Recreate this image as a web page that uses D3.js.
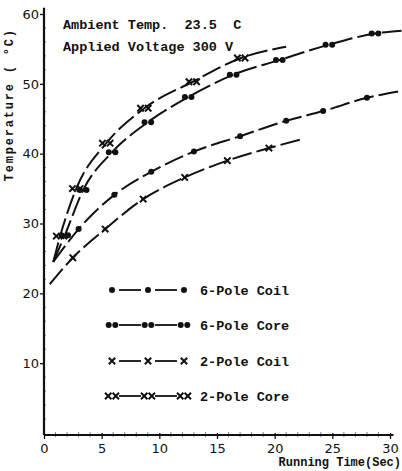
<!DOCTYPE html>
<html>
<head>
<meta charset="utf-8">
<script src="https://cdn.jsdelivr.net/npm/d3@7"></script>
<style>
  html, body { margin: 0; padding: 0; background: #fff; }
  svg { display: block; }
  .mono { font-family: "Liberation Mono", "DejaVu Sans Mono", monospace; font-weight: bold; fill: #111; }
  .tick text { font-family: "DejaVu Sans", "Liberation Sans", sans-serif; fill: #111; }
</style>
</head>
<body>
<svg id="chart" width="402" height="471"></svg>
<script>
// Temperature rise of motor coil and core vs running time
const sixCoilTime  = [0.8, 3.0, 6.1, 9.3, 13.0, 17.0, 21.0, 24.2, 28.0, 31.0];
const sixCoilTemp  = [24.5, 29.2, 34.1, 37.4, 40.3, 42.5, 44.7, 46.1, 48.0, 49.0];

const sixCoreTime  = [0.8, 1.8, 3.4, 5.9, 9.0, 12.5, 16.4, 20.4, 24.7, 28.7, 31.0];
const sixCoreTemp  = [24.5, 28.3, 34.8, 40.2, 44.5, 48.1, 51.3, 53.4, 55.6, 57.2, 57.6];

const twoCoilTime  = [0.5, 2.5, 5.3, 8.6, 12.2, 15.9, 19.5, 22.4];
const twoCoilTemp  = [21.3, 25.1, 29.2, 33.5, 36.6, 39.0, 40.8, 42.1];

const twoCoreTime  = [0.8, 1.4, 2.8, 5.4, 8.7, 12.9, 17.1, 21.0];
const twoCoreTemp  = [24.5, 28.2, 35.0, 41.5, 46.5, 50.3, 53.7, 55.3];

const xTicks = [0, 5, 10, 15, 20, 25, 30];
const yTicks = [10, 20, 30, 40, 50, 60];
const legendLabels = ["6-Pole Coil", "6-Pole Core", "2-Pole Coil", "2-Pole Core"];
const noteLines = ["Ambient Temp.  23.5  C", "Applied Voltage 300 V"];

const svg = d3.select("#chart");
const x = d3.scaleLinear().domain([0, 30]).range([44, 390]);
const y = d3.scaleLinear().domain([0, 60]).range([433, 14]);

// axes
const xAxis = d3.axisBottom(x).tickValues(xTicks).tickSize(4).tickSizeOuter(0);
const gx = svg.append("g").attr("transform", `translate(0,${y(0) + 2})`).call(xAxis);
gx.select(".domain").remove();
gx.selectAll(".tick line").attr("stroke", "#111").attr("stroke-width", 1.3).attr("y1", -2);
gx.selectAll(".tick text").attr("font-size", 13).attr("dy", "0.85em");

const yAxis = d3.axisLeft(y).tickValues(yTicks).tickSize(4).tickSizeOuter(0);
const gy = svg.append("g").attr("transform", `translate(${x(0)},0)`).call(yAxis);
gy.select(".domain").remove();
gy.selectAll(".tick line").attr("stroke", "#111").attr("stroke-width", 1.3);
gy.selectAll(".tick text").attr("font-size", 13).attr("x", -5);

// minor ticks
const minorX = d3.range(1, 31).filter(v => v % 5 !== 0);
svg.append("g").selectAll("line").data(minorX).join("line")
  .attr("x1", d => x(d)).attr("x2", d => x(d))
  .attr("y1", y(0) - 1).attr("y2", y(0) + 4)
  .attr("stroke", "#444").attr("stroke-width", 0.7);
const minorY = d3.range(2, 62, 2).filter(v => v % 10 !== 0);
svg.append("g").selectAll("line").data(minorY).join("line")
  .attr("x1", x(0) - 1).attr("x2", x(0) + 2)
  .attr("y1", d => y(d)).attr("y2", d => y(d))
  .attr("stroke", "#444").attr("stroke-width", 0.7);

// axis lines
svg.append("line").attr("x1", x(0)).attr("x2", x(0)).attr("y1", y(0) + 2).attr("y2", y(60.9))
  .attr("stroke", "#111").attr("stroke-width", 2.2);
svg.append("line").attr("x1", x(0)).attr("x2", x(30.3)).attr("y1", y(0) + 2).attr("y2", y(0) + 2)
  .attr("stroke", "#111").attr("stroke-width", 2.2);

// axis titles
svg.append("text").attr("class", "mono").attr("font-size", 12)
  .attr("letter-spacing", 1.8)
  .attr("transform", `translate(13,${y(47)}) rotate(-90)`)
  .attr("text-anchor", "middle")
  .text("Temperature ( °C)");
svg.append("text").attr("class", "mono").attr("font-size", 12)
  .attr("x", 401).attr("y", 466).attr("text-anchor", "end")
  .text("Running Time(Sec)");

// notes
noteLines.forEach((t, i) => {
  svg.append("text").attr("class", "mono").attr("font-size", 13.5)
    .attr("x", 63).attr("y", 29 + i * 22)
    .style("white-space", "pre").text(t);
});

// marker drawers
function dot(g, cx, cy) {
  g.append("circle").attr("cx", cx).attr("cy", cy).attr("r", 3).attr("fill", "#111");
}
function cross(g, cx, cy) {
  const s = 3.2;
  g.append("path").attr("d", `M${cx - s},${cy - s}L${cx + s},${cy + s}M${cx - s},${cy + s}L${cx + s},${cy - s}`)
    .attr("stroke", "#111").attr("stroke-width", 2).attr("fill", "none");
}
const markers = {
  dot: (g, cx, cy) => dot(g, cx, cy),
  dot2: (g, cx, cy) => { dot(g, cx - 3.3, cy); dot(g, cx + 3.3, cy); },
  cross: (g, cx, cy) => cross(g, cx, cy),
  cross2: (g, cx, cy) => { cross(g, cx - 3.8, cy); cross(g, cx + 3.8, cy); }
};

const series = [
  { label: legendLabels[0], t: sixCoilTime, v: sixCoilTemp, m: "dot" },
  { label: legendLabels[1], t: sixCoreTime, v: sixCoreTemp, m: "dot2" },
  { label: legendLabels[2], t: twoCoilTime, v: twoCoilTemp, m: "cross" },
  { label: legendLabels[3], t: twoCoreTime, v: twoCoreTemp, m: "cross2" }
];

const line = d3.line().x(d => x(d[0])).y(d => y(d[1])).curve(d3.curveMonotoneX);

series.forEach(s => {
  const pts = s.t.map((t, i) => [t, s.v[i]]);
  const g = svg.append("g");
  g.append("path").attr("d", line(pts)).attr("fill", "none")
    .attr("stroke", "#111").attr("stroke-width", 2)
    .attr("stroke-dasharray", "20,5");
  // first and last entries are the curve's start and end, not readings
  pts.slice(1, pts.length - 1).forEach(p => markers[s.m](g, x(p[0]), y(p[1])));
});

// legend
const legendY = [290, 325, 361, 396];
const legendX = [112, 148, 184];
series.forEach((s, i) => {
  const g = svg.append("g");
  const ly = legendY[i];
  for (let k = 0; k < legendX.length - 1; k++) {
    g.append("line").attr("x1", legendX[k] + 7).attr("x2", legendX[k + 1] - 7)
      .attr("y1", ly).attr("y2", ly).attr("stroke", "#111").attr("stroke-width", 1.8);
  }
  legendX.forEach(lx => markers[s.m](g, lx, ly));
  g.append("text").attr("class", "mono").attr("font-size", 13.5)
    .attr("x", 200).attr("y", ly + 4.5).text(s.label);
});
</script>
</body>
</html>
